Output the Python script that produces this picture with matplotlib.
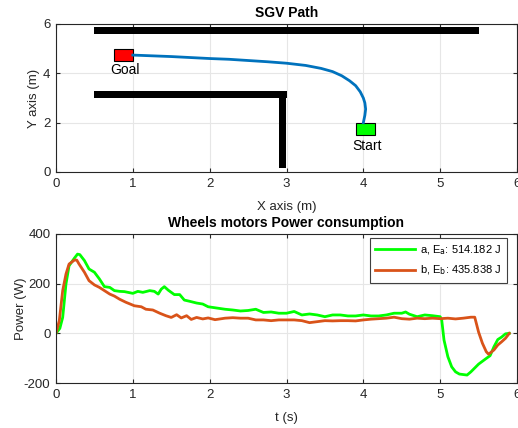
import matplotlib
matplotlib.use("Agg")
import matplotlib.pyplot as plt
from matplotlib.patches import Rectangle

plt.rcParams['font.family'] = ['Liberation Sans', 'DejaVu Sans']
plt.rcParams['axes.unicode_minus'] = False

# ---- Path plot data ----
path_x = [4.0, 4.02, 4.03, 4.02, 4.0, 3.96, 3.9, 3.82, 3.72, 3.6, 3.45, 3.25, 3.0, 2.75, 2.5, 2.25, 2.0, 1.75, 1.5, 1.25, 1.0]
path_y = [2.0, 2.3, 2.55, 2.8, 3.0, 3.25, 3.5, 3.7, 3.9, 4.07, 4.2, 4.32, 4.41, 4.47, 4.52, 4.57, 4.6, 4.64, 4.68, 4.71, 4.74]

# walls: (x0, y0, width, height)
wall_x0 = [0.5, 0.5, 2.9]
wall_y0 = [5.6, 3.0, 0.15]
wall_w = [5.0, 2.5, 0.1]
wall_h = [0.27, 0.27, 3.12]

goal_xy = (0.75, 4.5)
start_xy = (3.9, 1.5)
marker_w, marker_h = 0.25, 0.5

# ---- Power data ----
t_a = [0.0, 0.05, 0.087, 0.13, 0.17, 0.24, 0.28, 0.31, 0.37, 0.43, 0.5, 0.565, 0.63, 0.7, 0.76, 0.83,
       0.89, 1.0, 1.065, 1.13, 1.22, 1.28, 1.33, 1.37, 1.41, 1.46, 1.5, 1.54, 1.61, 1.67, 1.74, 1.83,
       1.91, 1.98, 2.09, 2.2, 2.3, 2.4, 2.5, 2.6, 2.7, 2.8, 2.9, 3.0, 3.1, 3.2, 3.3, 3.4, 3.5, 3.6,
       3.7, 3.8, 3.9, 4.0, 4.1, 4.2, 4.3, 4.4, 4.5, 4.55, 4.6, 4.7, 4.8, 4.9, 5.0, 5.02, 5.05, 5.1,
       5.15, 5.2, 5.25, 5.3, 5.35, 5.4, 5.5, 5.6, 5.65, 5.7, 5.75, 5.8, 5.85, 5.9]
p_a = [0, 20, 64, 199, 272, 303, 319, 317, 293, 259, 246, 219, 188, 185, 172, 169,
       168, 161, 169, 165, 172, 169, 158, 178, 188, 174, 165, 156, 156, 134, 129, 122,
       118, 107, 102, 97, 94, 90, 92, 97, 84, 86, 81, 81, 88, 74, 78, 74, 67, 74,
       74, 70, 70, 74, 70, 70, 74, 81, 81, 86, 77, 67, 74, 71, 67, 54, -27, -94,
       -135, -155, -164, -166, -168, -155, -124, -101, -90, -54, -25, -15, -2, 0]

t_b = [0.0, 0.043, 0.087, 0.13, 0.17, 0.24, 0.27, 0.30, 0.37, 0.43, 0.5, 0.565, 0.63, 0.7, 0.76,
       0.83, 0.91, 1.02, 1.11, 1.17, 1.26, 1.35, 1.43, 1.5, 1.57, 1.63, 1.7, 1.76, 1.83, 1.91, 1.98,
       2.07, 2.2, 2.3, 2.4, 2.5, 2.6, 2.7, 2.8, 2.9, 3.0, 3.1, 3.2, 3.3, 3.4, 3.5, 3.6, 3.7, 3.8,
       3.9, 4.0, 4.1, 4.2, 4.3, 4.4, 4.5, 4.6, 4.7, 4.8, 4.9, 5.0, 5.1, 5.2, 5.3, 5.4, 5.45, 5.5,
       5.55, 5.6, 5.63, 5.7, 5.75, 5.8, 5.85, 5.9]
p_b = [0, 51, 172, 239, 279, 295, 295, 279, 246, 212, 195, 185, 172, 158, 150,
       137, 125, 111, 107, 97, 94, 81, 71, 64, 75, 62, 71, 56, 64, 58, 62,
       55, 61, 63, 61, 61, 54, 54, 51, 54, 54, 54, 51, 43, 47, 51, 50, 51, 51,
       50, 54, 57, 59, 61, 65, 59, 57, 61, 59, 61, 59, 61, 58, 61, 65, 65, 5,
       -40, -74, -84, -67, -47, -34, -20, 0]

label_a = 'a, E$_{\\mathrm{a}}$: 514.182 J'
label_b = 'b, E$_{\\mathrm{b}}$: 435.838 J'

fig = plt.figure(figsize=(5.18, 4.28), dpi=100)
ax1 = fig.add_axes([56/518, 1-172/428, 461/518, 148/428])
ax2 = fig.add_axes([56/518, 1-383/428, 461/518, 149/428])

fs = 9.5
edge = '#262626'
for ax in (ax1, ax2):
    ax.grid(True, color='#e6e6e6', linewidth=0.8)
    ax.set_axisbelow(True)
    for s in ax.spines.values():
        s.set_color(edge)
        s.set_linewidth(0.8)
    ax.tick_params(direction='in', top=True, right=True, labelsize=fs,
                   colors=edge, length=3, width=0.8, pad=4)

# Path plot
for x0, y0, w, h in zip(wall_x0, wall_y0, wall_w, wall_h):
    ax1.add_patch(Rectangle((x0, y0), w, h, facecolor='black', edgecolor='none', zorder=3))
ax1.add_patch(Rectangle(goal_xy, marker_w, marker_h, facecolor='#ff0000', edgecolor='black', lw=0.8, zorder=4))
ax1.add_patch(Rectangle(start_xy, marker_w, marker_h, facecolor='#00ff00', edgecolor='black', lw=0.8, zorder=4))
ax1.plot(path_x, path_y, color='#0072BD', lw=2, zorder=5)
ax1.text(0.9, 4.15, 'Goal', ha='center', va='center', fontsize=10, color='black')
ax1.text(4.05, 1.05, 'Start', ha='center', va='center', fontsize=10, color='black')
ax1.set_xlim(0, 6)
ax1.set_ylim(0, 6)
ax1.set_xticks([0, 1, 2, 3, 4, 5, 6])
ax1.set_yticks([0, 2, 4, 6])
ax1.set_xlabel('X axis (m)', fontsize=fs, color=edge, labelpad=8)
ax1.set_ylabel('Y axis (m)', fontsize=fs, color=edge, labelpad=2)
ax1.set_title('SGV Path', fontsize=10, fontweight='bold', pad=5)

# Power plot
ax2.plot(t_a, p_a, color='#00ff00', lw=2, label=label_a)
ax2.plot(t_b, p_b, color='#D95319', lw=2, label=label_b)
ax2.set_xlim(0, 6)
ax2.set_ylim(-200, 400)
ax2.set_xticks([0, 1, 2, 3, 4, 5, 6])
ax2.set_yticks([-200, 0, 200, 400])
ax2.set_xlabel('t (s)', fontsize=fs, color=edge, labelpad=8)
ax2.set_ylabel('Power (W)', fontsize=fs, color=edge, labelpad=-2)
ax2.set_title('Wheels motors Power consumption', fontsize=10, fontweight='bold', pad=5)
leg = ax2.legend(loc='upper right', fontsize=8, fancybox=False, framealpha=1,
                 edgecolor='#404040', handlelength=3.6, handletextpad=0.4,
                 borderpad=0.5, labelspacing=0.6, borderaxespad=0,
                 bbox_to_anchor=(0.978, 0.973))
leg.get_frame().set_linewidth(0.8)

fig.savefig('out.png', dpi=100)
